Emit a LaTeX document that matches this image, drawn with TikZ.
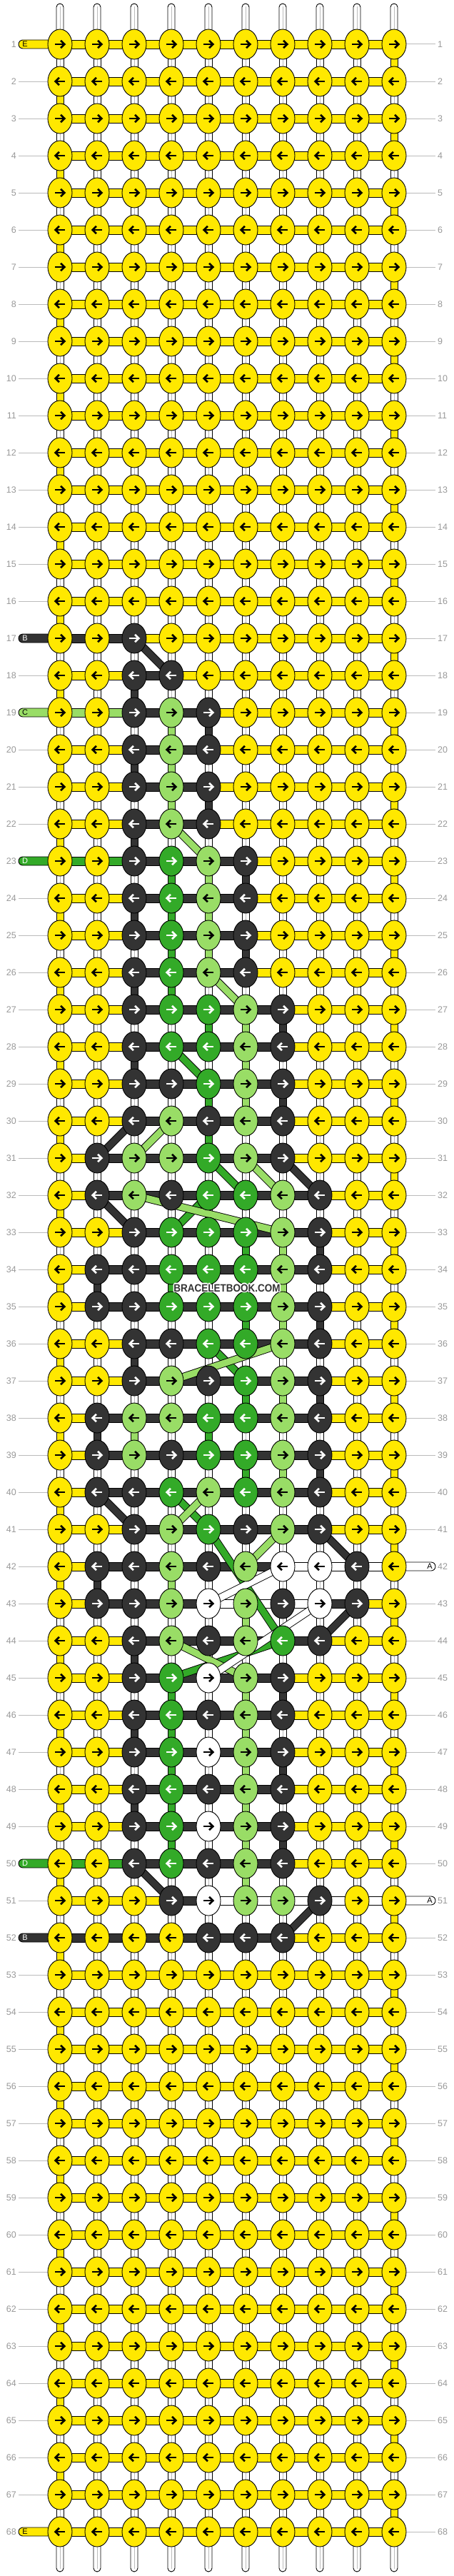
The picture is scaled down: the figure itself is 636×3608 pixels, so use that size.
\documentclass[tikz,border=0pt]{standalone}
\usepackage{fontspec}
\setmainfont{Liberation Sans}
\usetikzlibrary{shapes.geometric}
\pgfdeclarelayer{bg}
\pgfsetlayers{bg,main}
\definecolor{cY}{HTML}{FFE800}
\definecolor{cD}{HTML}{333333}
\definecolor{cL}{HTML}{99DD66}
\definecolor{cG}{HTML}{33AA28}
\definecolor{cW}{HTML}{FFFFFF}
\colorlet{aY}{black}
\colorlet{aD}{white}
\colorlet{aL}{black}
\colorlet{aG}{white}
\colorlet{aW}{black}
\definecolor{lblgray}{HTML}{999999}
\definecolor{linegray}{HTML}{BBBBBB}
\newcommand\setrow[3]{\expandafter\def\csname nr#1\endcsname{#2}\expandafter\def\csname sr#1\endcsname{#3}}
\setrow{17}{Y,Y,D,Y,Y,Y,Y,Y,Y,Y}{D,D,Y,Y,Y,Y,Y,Y,Y}
\setrow{18}{Y,Y,D,D,Y,Y,Y,Y,Y,Y}{Y,Y,D,Y,Y,Y,Y,Y,Y}
\setrow{19}{Y,Y,D,L,D,Y,Y,Y,Y,Y}{L,L,D,D,Y,Y,Y,Y,Y}
\setrow{20}{Y,Y,D,L,D,Y,Y,Y,Y,Y}{Y,Y,D,D,Y,Y,Y,Y,Y}
\setrow{21}{Y,Y,D,L,D,Y,Y,Y,Y,Y}{Y,Y,D,D,Y,Y,Y,Y,Y}
\setrow{22}{Y,Y,D,L,D,Y,Y,Y,Y,Y}{Y,Y,D,D,Y,Y,Y,Y,Y}
\setrow{23}{Y,Y,D,G,L,D,Y,Y,Y,Y}{G,G,D,D,D,Y,Y,Y,Y}
\setrow{24}{Y,Y,D,G,L,D,Y,Y,Y,Y}{Y,Y,D,D,D,Y,Y,Y,Y}
\setrow{25}{Y,Y,D,G,L,D,Y,Y,Y,Y}{Y,Y,D,D,D,Y,Y,Y,Y}
\setrow{26}{Y,Y,D,G,L,D,Y,Y,Y,Y}{Y,Y,D,D,D,Y,Y,Y,Y}
\setrow{27}{Y,Y,D,G,G,L,D,Y,Y,Y}{Y,Y,D,D,D,D,Y,Y,Y}
\setrow{28}{Y,Y,D,G,G,L,D,Y,Y,Y}{Y,Y,D,D,D,D,Y,Y,Y}
\setrow{29}{Y,Y,D,D,G,L,D,Y,Y,Y}{Y,Y,D,D,D,D,Y,Y,Y}
\setrow{30}{Y,Y,D,L,D,L,D,Y,Y,Y}{Y,Y,D,D,D,D,Y,Y,Y}
\setrow{31}{Y,D,L,L,G,L,D,Y,Y,Y}{Y,D,D,D,D,D,Y,Y,Y}
\setrow{32}{Y,D,L,D,G,G,L,D,Y,Y}{Y,D,D,D,D,D,D,Y,Y}
\setrow{33}{Y,Y,D,G,G,G,L,D,Y,Y}{Y,Y,D,D,D,D,D,Y,Y}
\setrow{34}{Y,D,D,G,G,G,L,D,Y,Y}{Y,D,D,D,D,D,D,Y,Y}
\setrow{35}{Y,D,D,G,G,G,L,D,Y,Y}{Y,D,D,D,D,D,D,Y,Y}
\setrow{36}{Y,Y,D,D,G,G,L,D,Y,Y}{Y,Y,D,D,D,D,D,Y,Y}
\setrow{37}{Y,Y,D,L,D,G,L,D,Y,Y}{Y,Y,D,D,D,D,D,Y,Y}
\setrow{38}{Y,D,L,L,G,G,L,D,Y,Y}{Y,D,D,D,D,D,D,Y,Y}
\setrow{39}{Y,D,L,D,G,G,L,D,Y,Y}{Y,D,D,D,D,D,D,Y,Y}
\setrow{40}{Y,D,D,G,L,G,L,D,Y,Y}{Y,D,D,D,D,D,D,Y,Y}
\setrow{41}{Y,Y,D,L,G,D,L,D,Y,Y}{Y,Y,D,D,D,D,D,Y,Y}
\setrow{42}{Y,D,D,L,D,L,W,W,D,Y}{Y,D,D,D,D,D,W,W,W}
\setrow{43}{Y,D,D,L,W,L,D,W,D,Y}{Y,D,D,D,W,W,W,D,Y}
\setrow{44}{Y,Y,D,L,D,L,G,D,Y,Y}{Y,Y,D,D,D,D,D,Y,Y}
\setrow{45}{Y,Y,D,G,W,L,D,Y,Y,Y}{Y,Y,D,D,D,D,Y,Y,Y}
\setrow{46}{Y,Y,D,G,D,L,D,Y,Y,Y}{Y,Y,D,D,D,D,Y,Y,Y}
\setrow{47}{Y,Y,D,G,W,L,D,Y,Y,Y}{Y,Y,D,D,D,D,Y,Y,Y}
\setrow{48}{Y,Y,D,G,D,L,D,Y,Y,Y}{Y,Y,D,D,D,D,Y,Y,Y}
\setrow{49}{Y,Y,D,G,W,L,D,Y,Y,Y}{Y,Y,D,D,D,D,Y,Y,Y}
\setrow{50}{Y,Y,D,G,D,L,D,Y,Y,Y}{G,G,D,D,D,D,Y,Y,Y}
\setrow{51}{Y,Y,Y,D,W,L,L,D,Y,Y}{Y,Y,Y,D,W,W,W,W,W}
\setrow{52}{Y,Y,Y,Y,D,D,D,Y,Y,Y}{D,D,D,D,D,D,Y,Y,Y}
\expandafter\def\csname lp1\endcsname{}
\expandafter\def\csname lp17\endcsname{}
\expandafter\def\csname lp19\endcsname{}
\expandafter\def\csname lp23\endcsname{}
\expandafter\def\csname lp50\endcsname{}
\expandafter\def\csname lp52\endcsname{}
\expandafter\def\csname lp68\endcsname{}
\expandafter\def\csname rp42\endcsname{}
\expandafter\def\csname rp51\endcsname{}
\begin{document}
\begin{tikzpicture}[x=1pt,y=-1pt,
  knot/.style={ellipse,draw=black,line width=0.9pt,minimum width=34pt,minimum height=42pt,inner sep=0pt},
  outl/.style={draw=black,line width=0.9pt},
  arr/.style={line width=2.6pt},
  glin/.style={draw=linegray,line width=1pt},
  lbl/.style={text=lblgray,inner sep=0pt,font=\fontsize{12.5}{13}\selectfont},
  pltext/.style={inner sep=0pt,font=\fontsize{11}{11}\selectfont}]
\useasboundingbox (0,0) rectangle (636,3608);
\begin{pgfonlayer}{bg}
\fill[white] (0,0) rectangle (636,3608);
\end{pgfonlayer}
% knots
\foreach \r in {1,...,68}{
  \ifcsname nr\r\endcsname \edef\nlist{\csname nr\r\endcsname}\else \def\nlist{Y,Y,Y,Y,Y,Y,Y,Y,Y,Y}\fi
  \pgfmathtruncatemacro\yy{62+(\r-1)*52}
  \pgfmathsetmacro\dir{ifthenelse(mod(\r,2)==1,1,-1)}
  \foreach \c [count=\j] in \nlist {
    \pgfmathtruncatemacro\xc{84+(\j-1)*52}
    \node[knot,fill=c\c] (n\r-\j) at (\xc,\yy) {};
    \begin{scope}[shift={(\xc,\yy)},xscale=\dir]
      \draw[arr,draw=a\c] (-7,0) -- (6,0);
      \draw[arr,draw=a\c,line join=miter] (1,-5.2) -- (6.4,0) -- (1,5.2);
    \end{scope}
  }
  \node[lbl,anchor=east] (ll\r) at (23,\yy) {\r};
  \node[lbl,anchor=west] (rl\r) at (613,\yy) {\r};
}
\begin{pgfonlayer}{bg}
% label lines
\foreach \r in {1,...,68}{
  \ifcsname lp\r\endcsname\else \draw[glin] (ll\r.east) ++(3,0) -- (n\r-1.west);\fi
  \ifcsname rp\r\endcsname\else \draw[glin] (n\r-10.east) -- ++(41,0);\fi
}
% vertical base segments
\foreach \r in {1,...,67}{
  \pgfmathtruncatemacro\rr{\r+1}
  \foreach \j in {1,...,10}{
    \draw[outl,fill=white] ([xshift=-5pt]n\r-\j.center) rectangle ([xshift=5pt]n\rr-\j.center);
    \draw[glin] (n\r-\j.center) -- (n\rr-\j.center);
  }
  \pgfmathtruncatemacro\jt{ifthenelse(mod(\r,2)==1,10,1)}
  \draw[outl,fill=cY] ([xshift=-5pt]n\r-\jt.center) rectangle ([xshift=5pt]n\rr-\jt.center);
}
% coloured vertical segments
\foreach \r/\j/\c in {18/3/D,19/5/D,20/3/D,21/5/D,22/3/D,23/6/D,24/3/D,25/6/D,26/3/D,27/7/D,28/3/D,29/7/D,33/8/D,34/2/D,35/8/D,36/3/D,37/8/D,38/2/D,39/8/D,42/2/D,44/3/D,45/7/D,46/3/D,47/7/D,48/3/D,49/7/D,
  19/4/L,20/4/L,21/4/L,23/5/L,24/5/L,25/5/L,27/6/L,28/6/L,29/6/L,33/7/L,34/7/L,35/7/L,37/7/L,38/3/L,39/7/L,42/4/L,43/6/L,45/6/L,46/6/L,47/6/L,48/6/L,49/6/L,50/6/L,
  23/4/G,24/4/G,25/4/G,26/4/G,27/5/G,29/5/G,30/5/G,33/6/G,34/4/G,35/6/G,37/6/G,38/5/G,39/6/G,45/4/G,46/4/G,47/4/G,48/4/G,49/4/G}{
  \pgfmathtruncatemacro\rr{\r+1}
  \draw[outl,fill=c\c] ([xshift=-5pt]n\r-\j.center) rectangle ([xshift=5pt]n\rr-\j.center);
}
% top and bottom strand ends
\foreach \j in {1,...,10}{
  \draw[outl,fill=white,rounded corners=5pt] ([xshift=-5pt]n1-\j.center |- 0,5) rectangle ([xshift=5pt,yshift=-4pt]n1-\j.center);
  \draw[glin] (n1-\j.center |- 0,9) -- (n1-\j.center);
  \draw[outl,fill=white,rounded corners=5pt] ([xshift=-5pt,yshift=4pt]n68-\j.center) rectangle ([xshift=5pt]n68-\j.center |- 0,3602);
  \draw[glin] (n68-\j.center) -- (n68-\j.center |- 0,3598);
}
% horizontal segments
\foreach \r in {1,...,68}{
  \ifcsname sr\r\endcsname \edef\slist{\csname sr\r\endcsname}\else \def\slist{Y,Y,Y,Y,Y,Y,Y,Y,Y}\fi
  \foreach \c [count=\j] in \slist {
    \pgfmathtruncatemacro\k{\j+1}
    \draw[outl,fill=c\c] ([yshift=6pt]n\r-\j.center) rectangle ([yshift=-6pt]n\r-\k.center);
  }
}
% strand ends at the edges
\foreach \r/\c/\t/\tc in {1/Y/E/black,17/D/B/white,19/L/C/black,23/G/D/white,50/G/D/white,52/D/B/white,68/Y/E/black}{
  \draw[outl,fill=c\c,rounded corners=6pt] ([yshift=6pt]n\r-1.center -| 26,0) rectangle ([yshift=-6pt]n\r-1.center);
  \node[pltext,text=\tc] (le\r) at ([xshift=-49pt]n\r-1.center) {\t};
}
\foreach \r/\c/\t/\tc in {42/W/A/black,51/W/A/black}{
  \draw[outl,fill=c\c,rounded corners=6pt] ([yshift=6pt]n\r-10.center) rectangle ([yshift=-6pt]n\r-10.center -| 610,0);
  \node[pltext,text=\tc] (re\r) at ([xshift=50pt]n\r-10.center) {\t};
}
% diagonal strands
\foreach \ra/\ja/\rb/\jb/\c in {28/4/29/5/G,31/5/32/6/G,32/5/33/4/G,36/5/37/6/G,40/4/41/5/G,41/5/44/7/G,44/7/45/4/G,
  22/4/23/5/L,26/5/27/6/L,30/4/31/3/L,31/6/32/7/L,32/3/33/7/L,36/7/37/4/L,40/5/41/4/L,41/7/42/6/L,44/4/45/6/L,
  17/3/18/4/D,30/3/31/2/D,31/7/32/8/D,32/2/33/3/D,40/2/41/3/D,41/8/42/9/D,43/9/44/8/D,50/3/51/4/D,51/8/52/7/D,
  42/7/43/5/W,43/8/45/5/W}{
  \draw[black,line width=11pt] (n\ra-\ja.center) -- (n\rb-\jb.center);
  \draw[c\c,line width=9.2pt] (n\ra-\ja.center) -- (n\rb-\jb.center);
}
\end{pgfonlayer}
% watermark
\foreach \dx/\dy in {-1/-1,-1/0,-1/1,0/-1,0/1,1/-1,1/0,1/1,-1.5/0,1.5/0,0/-1.5,0/1.5}{
  \node[text=white,inner sep=0pt,font=\fontsize{15}{15}\selectfont\bfseries] at (318+\dx,1804+\dy) {\scalebox{0.9}[1]{BRACELETBOOK.COM}};
}
\node[text=cD,inner sep=0pt,font=\fontsize{15}{15}\selectfont\bfseries] (wm) at (318,1804) {\scalebox{0.9}[1]{BRACELETBOOK.COM}};
\end{tikzpicture}
\end{document}
